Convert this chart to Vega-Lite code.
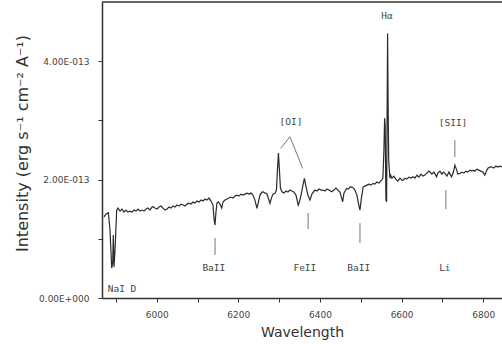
{
  "$schema": "https://vega.github.io/schema/vega-lite/v6.json",
  "width": 400,
  "height": 296,
  "autosize": {"type": "none"},
  "padding": {"left": 102, "top": 2, "right": 0, "bottom": 49},
  "background": "white",
  "config": {
    "view": {"stroke": null},
    "font": "DejaVu Sans",
    "axis": {"domainColor": "#333", "domainWidth": 1.5, "tickColor": "#333", "grid": false, "labelFont": "DejaVu Sans", "titleFont": "DejaVu Sans", "labelColor": "#444", "titleColor": "#333", "titleFontWeight": "normal"}
  },
  "layer": [
    {
      "data": {"values": [
        {"w":5871,"f":1.372e-13},{"w":5876,"f":1.418e-13},{"w":5881.5,"f":1.440e-13},{"w":5885.6,"f":1.148e-13},{"w":5889.8,"f":0.506e-13},{"w":5892.3,"f":0.608e-13},{"w":5893.7,"f":1.063e-13},{"w":5895.4,"f":0.523e-13},{"w":5897.9,"f":0.810e-13},{"w":5902.0,"f":1.485e-13},
        {"w":5905.2,"f":1.519e-13},{"w":5910.1,"f":1.468e-13},{"w":5915.0,"f":1.502e-13},{"w":5919.9,"f":1.451e-13},{"w":5924.8,"f":1.485e-13},{"w":5929.7,"f":1.451e-13},{"w":5934.6,"f":1.468e-13},{"w":5939.5,"f":1.451e-13},{"w":5944.4,"f":1.485e-13},{"w":5949.3,"f":1.468e-13},
        {"w":5954.2,"f":1.502e-13},{"w":5959.1,"f":1.468e-13},{"w":5964.0,"f":1.485e-13},{"w":5968.9,"f":1.468e-13},{"w":5973.8,"f":1.502e-13},{"w":5978.7,"f":1.519e-13},{"w":5983.6,"f":1.485e-13},{"w":5988.5,"f":1.536e-13},{"w":5990.9,"f":1.541e-13},{"w":5995.8,"f":1.519e-13},
        {"w":6000.7,"f":1.502e-13},{"w":6005.6,"f":1.536e-13},{"w":6010.5,"f":1.553e-13},{"w":6015.4,"f":1.519e-13},{"w":6020.3,"f":1.485e-13},{"w":6025.2,"f":1.502e-13},{"w":6030.1,"f":1.536e-13},{"w":6035.0,"f":1.519e-13},{"w":6039.9,"f":1.553e-13},{"w":6044.8,"f":1.536e-13},
        {"w":6049.7,"f":1.570e-13},{"w":6054.6,"f":1.553e-13},{"w":6059.5,"f":1.586e-13},{"w":6064.4,"f":1.570e-13},{"w":6069.3,"f":1.553e-13},{"w":6074.2,"f":1.586e-13},{"w":6079.1,"f":1.603e-13},{"w":6084.0,"f":1.586e-13},{"w":6088.9,"f":1.620e-13},{"w":6093.8,"f":1.603e-13},
        {"w":6098.7,"f":1.637e-13},{"w":6103.6,"f":1.620e-13},{"w":6108.5,"f":1.654e-13},{"w":6113.4,"f":1.637e-13},{"w":6118.3,"f":1.671e-13},{"w":6123.2,"f":1.654e-13},{"w":6128.1,"f":1.688e-13},{"w":6133.0,"f":1.637e-13},{"w":6137.9,"f":1.570e-13},{"w":6140.3,"f":1.350e-13},
        {"w":6142.8,"f":1.232e-13},{"w":6145.2,"f":1.451e-13},{"w":6147.7,"f":1.603e-13},{"w":6150.9,"f":1.625e-13},{"w":6155.0,"f":1.586e-13},{"w":6159.2,"f":1.519e-13},{"w":6162.4,"f":1.620e-13},{"w":6167.3,"f":1.654e-13},{"w":6172.2,"f":1.671e-13},{"w":6177.1,"f":1.688e-13},
        {"w":6182.0,"f":1.705e-13},{"w":6186.9,"f":1.688e-13},{"w":6191.8,"f":1.722e-13},{"w":6196.7,"f":1.738e-13},{"w":6201.6,"f":1.722e-13},{"w":6206.5,"f":1.755e-13},{"w":6211.4,"f":1.738e-13},{"w":6216.3,"f":1.755e-13},{"w":6221.2,"f":1.772e-13},{"w":6226.1,"f":1.755e-13},
        {"w":6231.0,"f":1.772e-13},{"w":6235.9,"f":1.738e-13},{"w":6240.7,"f":1.654e-13},{"w":6245.6,"f":1.514e-13},{"w":6248.1,"f":1.586e-13},{"w":6253.0,"f":1.738e-13},{"w":6257.9,"f":1.789e-13},{"w":6261.1,"f":1.794e-13},{"w":6265.2,"f":1.772e-13},{"w":6269.4,"f":1.767e-13},
        {"w":6272.6,"f":1.705e-13},{"w":6277.5,"f":1.598e-13},{"w":6281.1,"f":1.688e-13},{"w":6284.8,"f":1.755e-13},{"w":6289.7,"f":1.767e-13},{"w":6293.4,"f":1.823e-13},{"w":6295.8,"f":2.160e-13},{"w":6298.3,"f":2.447e-13},{"w":6300.7,"f":2.160e-13},{"w":6303.2,"f":1.857e-13},
        {"w":6306.8,"f":1.794e-13},{"w":6311.7,"f":1.772e-13},{"w":6316.6,"f":1.806e-13},{"w":6321.5,"f":1.789e-13},{"w":6326.5,"f":1.823e-13},{"w":6331.4,"f":1.806e-13},{"w":6336.3,"f":1.789e-13},{"w":6341.2,"f":1.738e-13},{"w":6346.8,"f":1.570e-13},{"w":6350.9,"f":1.654e-13},
        {"w":6354.6,"f":1.772e-13},{"w":6358.3,"f":1.907e-13},{"w":6361.9,"f":2.020e-13},{"w":6365.6,"f":1.890e-13},{"w":6370.5,"f":1.738e-13},{"w":6375.4,"f":1.654e-13},{"w":6380.3,"f":1.755e-13},{"w":6387.7,"f":1.823e-13},{"w":6392.6,"f":1.806e-13},{"w":6397.5,"f":1.840e-13},
        {"w":6402.4,"f":1.823e-13},{"w":6407.3,"f":1.823e-13},{"w":6412.2,"f":1.806e-13},{"w":6417.1,"f":1.840e-13},{"w":6422.0,"f":1.823e-13},{"w":6428.6,"f":1.794e-13},{"w":6434.2,"f":1.823e-13},{"w":6439.1,"f":1.857e-13},{"w":6444.0,"f":1.823e-13},{"w":6448.9,"f":1.789e-13},
        {"w":6452.6,"f":1.705e-13},{"w":6455.5,"f":1.625e-13},{"w":6458.7,"f":1.772e-13},{"w":6465.3,"f":1.851e-13},{"w":6469.7,"f":1.840e-13},{"w":6473.4,"f":1.873e-13},{"w":6477.6,"f":1.878e-13},{"w":6482.0,"f":1.857e-13},{"w":6485.6,"f":1.823e-13},{"w":6490.5,"f":1.738e-13},
        {"w":6494.2,"f":1.603e-13},{"w":6497.9,"f":1.485e-13},{"w":6501.6,"f":1.688e-13},{"w":6506.0,"f":1.878e-13},{"w":6510.1,"f":1.890e-13},{"w":6515.0,"f":1.907e-13},{"w":6519.9,"f":1.924e-13},{"w":6524.8,"f":1.907e-13},{"w":6530.4,"f":1.936e-13},{"w":6534.6,"f":1.924e-13},
        {"w":6539.5,"f":1.958e-13},{"w":6544.4,"f":1.941e-13},{"w":6551.0,"f":1.992e-13},{"w":6554.2,"f":2.025e-13},{"w":6556.7,"f":2.498e-13},{"w":6558.4,"f":3.038e-13},{"w":6559.8,"f":2.920e-13},{"w":6561.6,"f":1.654e-13},{"w":6563.3,"f":1.625e-13},{"w":6564.7,"f":3.342e-13},
        {"w":6565.7,"f":4.468e-13},{"w":6566.9,"f":3.342e-13},{"w":6568.4,"f":2.329e-13},{"w":6571.4,"f":2.025e-13},{"w":6573.1,"f":2.076e-13},{"w":6576.2,"f":2.025e-13},{"w":6581.1,"f":2.059e-13},{"w":6586.0,"f":2.008e-13},{"w":6590.9,"f":1.975e-13},{"w":6595.8,"f":2.025e-13},
        {"w":6600.7,"f":1.992e-13},{"w":6603.9,"f":1.992e-13},{"w":6608.1,"f":2.025e-13},{"w":6613.0,"f":2.008e-13},{"w":6617.9,"f":2.042e-13},{"w":6622.8,"f":2.025e-13},{"w":6628.4,"f":2.047e-13},{"w":6632.6,"f":2.025e-13},{"w":6637.5,"f":2.076e-13},{"w":6642.4,"f":2.042e-13},
        {"w":6647.3,"f":2.093e-13},{"w":6652.2,"f":2.059e-13},{"w":6657.1,"f":2.076e-13},{"w":6662.0,"f":2.110e-13},{"w":6666.9,"f":2.143e-13},{"w":6669.3,"f":2.132e-13},{"w":6674.2,"f":2.093e-13},{"w":6679.1,"f":2.127e-13},{"w":6685.7,"f":2.047e-13},{"w":6688.9,"f":2.110e-13},
        {"w":6693.8,"f":2.143e-13},{"w":6698.7,"f":2.093e-13},{"w":6702.4,"f":2.127e-13},{"w":6706.1,"f":2.105e-13},{"w":6711.0,"f":2.059e-13},{"w":6715.9,"f":2.127e-13},{"w":6722.5,"f":2.047e-13},{"w":6726.9,"f":2.127e-13},{"w":6730.5,"f":2.245e-13},{"w":6734.2,"f":2.177e-13},
        {"w":6737.9,"f":2.093e-13},{"w":6742.8,"f":2.105e-13},{"w":6747.7,"f":2.127e-13},{"w":6752.6,"f":2.110e-13},{"w":6757.5,"f":2.143e-13},{"w":6762.4,"f":2.127e-13},{"w":6767.3,"f":2.160e-13},{"w":6772.2,"f":2.143e-13},{"w":6775.4,"f":2.160e-13},{"w":6779.5,"f":2.143e-13},
        {"w":6784.4,"f":2.177e-13},{"w":6789.3,"f":2.160e-13},{"w":6794.2,"f":2.143e-13},{"w":6799.1,"f":2.127e-13},{"w":6804.0,"f":2.076e-13},{"w":6807.7,"f":2.143e-13},{"w":6811.4,"f":2.194e-13},{"w":6816.3,"f":2.211e-13},{"w":6820.4,"f":2.216e-13},{"w":6826.1,"f":2.194e-13},
        {"w":6831.0,"f":2.228e-13},{"w":6835.9,"f":2.211e-13},{"w":6840.8,"f":2.228e-13},{"w":6845.7,"f":2.216e-13}
      ]},
      "mark": {"type": "line", "color": "#2a2a2a", "strokeWidth": 1.2, "clip": true},
      "encoding": {
        "x": {"field": "w", "type": "quantitative", "scale": {"domain": [5866, 6846], "nice": false, "zero": false},
          "axis": {"title": "Wavelength", "titleFontSize": 14, "titlePadding": 6, "values": [5900, 6000, 6100, 6200, 6300, 6400, 6500, 6600, 6700, 6800], "format": "d", "labelExpr": "datum.value % 200 == 0 ? datum.label : ''", "labelFontSize": 9, "tickSize": 4, "labelPadding": 8}},
        "y": {"field": "f", "type": "quantitative", "scale": {"domain": [0, 5e-13], "nice": false},
          "axis": {"title": "Intensity (erg s⁻¹ cm⁻² A⁻¹)", "titleFontSize": 16, "titlePadding": 8, "titleY": 141, "values": [0, 1e-13, 2e-13, 3e-13, 4e-13], "labelExpr": "datum.value == 0 ? '0.00E+000' : (round(datum.value*1e13) % 2 == 0 ? format(datum.value*1e13, '.2f') + 'E-013' : '')", "labelFontSize": 9, "tickSize": 4, "labelPadding": 9}}
      }
    },
    {
      "data": {"values": [{"top": 5e-13}]},
      "mark": {"type": "rule", "color": "#333", "strokeWidth": 1.5},
      "encoding": {"y": {"field": "top", "type": "quantitative"}}
    },
    {
      "data": {"values": [
        {"w": 6143, "w2": 6143, "f": 1.013e-13, "f2": 0.726e-13},
        {"w": 6371, "w2": 6371, "f": 1.435e-13, "f2": 1.165e-13},
        {"w": 6498, "w2": 6498, "f": 1.266e-13, "f2": 0.928e-13},
        {"w": 6708.5, "w2": 6708.5, "f": 1.823e-13, "f2": 1.502e-13},
        {"w": 6730.5, "w2": 6730.5, "f": 2.667e-13, "f2": 2.380e-13},
        {"w": 6326.5, "w2": 6303.7, "f": 2.722e-13, "f2": 2.527e-13},
        {"w": 6326.5, "w2": 6357.6, "f": 2.722e-13, "f2": 2.189e-13}
      ]},
      "mark": {"type": "rule", "color": "#777", "strokeWidth": 1},
      "encoding": {
        "x": {"field": "w", "type": "quantitative"},
        "x2": {"field": "w2"},
        "y": {"field": "f", "type": "quantitative"},
        "y2": {"field": "f2"}
      }
    },
    {
      "data": {"values": [
        {"w": 6564, "f": 4.76e-13, "label": "Hα"},
        {"w": 6329, "f": 2.97e-13, "label": "[OI]"},
        {"w": 6726, "f": 2.95e-13, "label": "[SII]"},
        {"w": 6140, "f": 0.506e-13, "label": "BaII"},
        {"w": 6363, "f": 0.506e-13, "label": "FeII"},
        {"w": 6495, "f": 0.506e-13, "label": "BaII"},
        {"w": 6706, "f": 0.506e-13, "label": "Li"},
        {"w": 5915, "f": 0.152e-13, "label": "NaI D"}
      ]},
      "mark": {"type": "text", "fontSize": 9.5, "color": "#444", "align": "center", "baseline": "middle", "font": "DejaVu Sans Mono"},
      "encoding": {
        "x": {"field": "w", "type": "quantitative"},
        "y": {"field": "f", "type": "quantitative"},
        "text": {"field": "label"}
      }
    }
  ]
}
